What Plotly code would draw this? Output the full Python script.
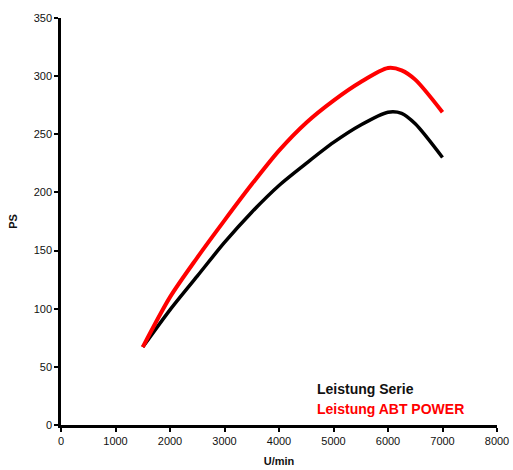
import plotly.graph_objects as go

rpm = [1500, 2000, 2500, 3000, 3500, 4000, 4500, 5000, 5500, 6000, 6250, 6500, 7000]
ps_serie = [67, 99, 128, 157, 183, 206, 225, 243, 258, 269, 268, 259, 230]
ps_abt = [67, 110, 144, 176, 207, 236, 260, 279, 295, 307, 305, 297, 269]

label_serie = "Leistung Serie"
label_abt = "Leistung ABT POWER"

fig = go.Figure()
fig.add_trace(go.Scatter(x=rpm, y=ps_serie, mode="lines", name=label_serie,
                         line=dict(color="black", width=3.5, shape="spline", smoothing=0.8)))
fig.add_trace(go.Scatter(x=rpm, y=ps_abt, mode="lines", name=label_abt,
                         line=dict(color="#ff0000", width=4, shape="spline", smoothing=0.8)))

fig.add_annotation(x=4660, y=31, xref="x", yref="y", text="<b>" + label_serie + "</b>",
                   showarrow=False, xanchor="left", yanchor="middle",
                   font=dict(family="Liberation Sans, Arial", size=14, color="#111111"))
fig.add_annotation(x=4660, y=14, xref="x", yref="y", text="<b>" + label_abt + "</b>",
                   showarrow=False, xanchor="left", yanchor="middle",
                   font=dict(family="Liberation Sans, Arial", size=14, color="#ff0000"))

axis_common = dict(showline=True, linecolor="black", linewidth=2.5, ticks="outside",
                   ticklen=4, tickwidth=2, tickcolor="black", showgrid=False, zeroline=False,
                   tickfont=dict(family="Liberation Sans, Arial", size=11, color="#111111"),
                   mirror=False, automargin=False)

fig.update_layout(
    width=513, height=470,
    margin=dict(l=61, r=16, t=18, b=45),
    paper_bgcolor="white", plot_bgcolor="white",
    showlegend=False,
    xaxis=dict(range=[0, 8000], tickvals=[0, 1000, 2000, 3000, 4000, 5000, 6000, 7000, 8000],
               title=dict(text="<b>U/min</b>", standoff=12,
                          font=dict(family="Liberation Sans, Arial", size=11, color="#111111")),
               **axis_common),
    yaxis=dict(range=[0, 350], tickvals=[0, 50, 100, 150, 200, 250, 300, 350],
               title=dict(text="<b>PS</b>", standoff=14,
                          font=dict(family="Liberation Sans, Arial", size=11, color="#111111")),
               **axis_common),
)

fig.write_html("out.html", config={"displayModeBar": False},
               post_script="document.body.style.margin='0';document.body.style.overflow='hidden';")
